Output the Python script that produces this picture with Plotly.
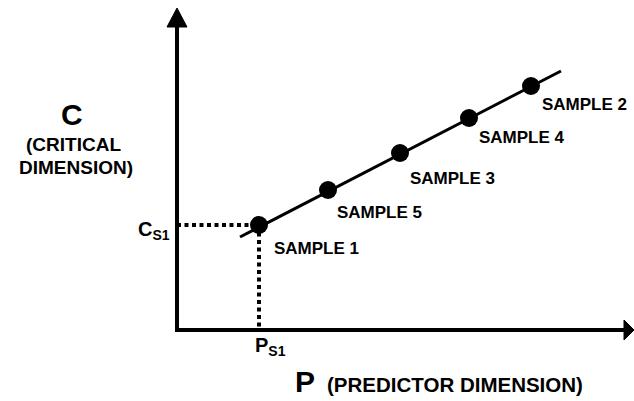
import plotly.graph_objects as go

# ---- data (schematic units: P along x, C along y) ----
sample_names = ["SAMPLE 1", "SAMPLE 5", "SAMPLE 3", "SAMPLE 4", "SAMPLE 2"]
sample_p = [82, 151, 223, 292, 354]
sample_c = [105, 140, 177, 212, 244]
fit_p = [63, 384]
fit_c = [93, 259]
axis_p_max = 457
axis_c_max = 322

# label offsets (style)
label_dx = [13, 7, 8, 8, 9]
label_dy = [-23, -22, -25, -19, -18]

FONT = "Liberation Sans, Arial, Helvetica, sans-serif"
fig = go.Figure()

# axes lines
fig.add_trace(go.Scatter(x=[0, 0, axis_p_max - 10], y=[axis_c_max - 17, 0, 0], mode="lines",
                         line=dict(color="black", width=4), hoverinfo="skip"))
# arrowheads
fig.add_trace(go.Scatter(x=[0, -10, 10, 0], y=[axis_c_max, axis_c_max - 19, axis_c_max - 19, axis_c_max],
                         mode="lines", fill="toself", fillcolor="black",
                         line=dict(color="black", width=1), hoverinfo="skip"))
fig.add_trace(go.Scatter(x=[axis_p_max, axis_p_max - 10, axis_p_max - 10, axis_p_max], y=[0, 10, -10, 0],
                         mode="lines", fill="toself", fillcolor="black",
                         line=dict(color="black", width=1), hoverinfo="skip"))
# dotted projection lines for sample 1
fig.add_trace(go.Scatter(x=[0, sample_p[0]], y=[sample_c[0], sample_c[0]], mode="lines",
                         line=dict(color="black", width=4, dash="4px,3.5px"), hoverinfo="skip"))
fig.add_trace(go.Scatter(x=[sample_p[0], sample_p[0]], y=[sample_c[0], 0], mode="lines",
                         line=dict(color="black", width=4, dash="4px,3.5px"), hoverinfo="skip"))
# fit line
fig.add_trace(go.Scatter(x=fit_p, y=fit_c, mode="lines", line=dict(color="black", width=3), hoverinfo="skip"))
# samples
fig.add_trace(go.Scatter(x=sample_p, y=sample_c, mode="markers",
                         marker=dict(color="black", size=18), hoverinfo="skip"))

ann = []
for name, p, c, dx, dy in zip(sample_names, sample_p, sample_c, label_dx, label_dy):
    ann.append(dict(x=p + dx, y=c + dy, text="<b>%s</b>" % name, xanchor="left", yanchor="middle",
                    showarrow=False, font=dict(family=FONT, size=17, color="black")))

ann += [
    dict(x=-105, y=216, text="<b>C</b>", showarrow=False, xanchor="center", yanchor="middle",
         font=dict(family=FONT, size=30, color="black")),
    dict(x=-104, y=186, text="<b>(CRITICAL</b>", showarrow=False, xanchor="center", yanchor="middle",
         font=dict(family=FONT, size=19, color="black")),
    dict(x=-101, y=163, text="<b>DIMENSION)</b>", showarrow=False, xanchor="center", yanchor="middle",
         font=dict(family=FONT, size=19, color="black")),
    dict(x=-5, y=100, text="<b>C<sub>S1</sub></b>", showarrow=False, xanchor="right", yanchor="middle",
         font=dict(family=FONT, size=20, color="black")),
    dict(x=93, y=-2, text="<b>P<sub>S1</sub></b>", showarrow=False, xanchor="center", yanchor="top",
         font=dict(family=FONT, size=20, color="black")),
    dict(x=116, y=-51, text="<b>P</b>", showarrow=False, xanchor="left", yanchor="middle",
         font=dict(family=FONT, size=30, color="black")),
    dict(x=148, y=-54, text="<b>(PREDICTOR DIMENSION)</b>", showarrow=False, xanchor="left", yanchor="middle",
         font=dict(family=FONT, size=20.5, color="black")),
]

fig.update_layout(
    width=634, height=401, margin=dict(l=0, r=0, t=0, b=0),
    paper_bgcolor="white", plot_bgcolor="white", showlegend=False,
    xaxis=dict(range=[-177, 457], visible=False, fixedrange=True),
    yaxis=dict(range=[-71, 330], visible=False, fixedrange=True),
    annotations=ann,
)
fig.write_html("out.html", config={"displayModeBar": False},
               post_script="document.body.style.margin='0px';document.body.style.overflow='hidden';")
